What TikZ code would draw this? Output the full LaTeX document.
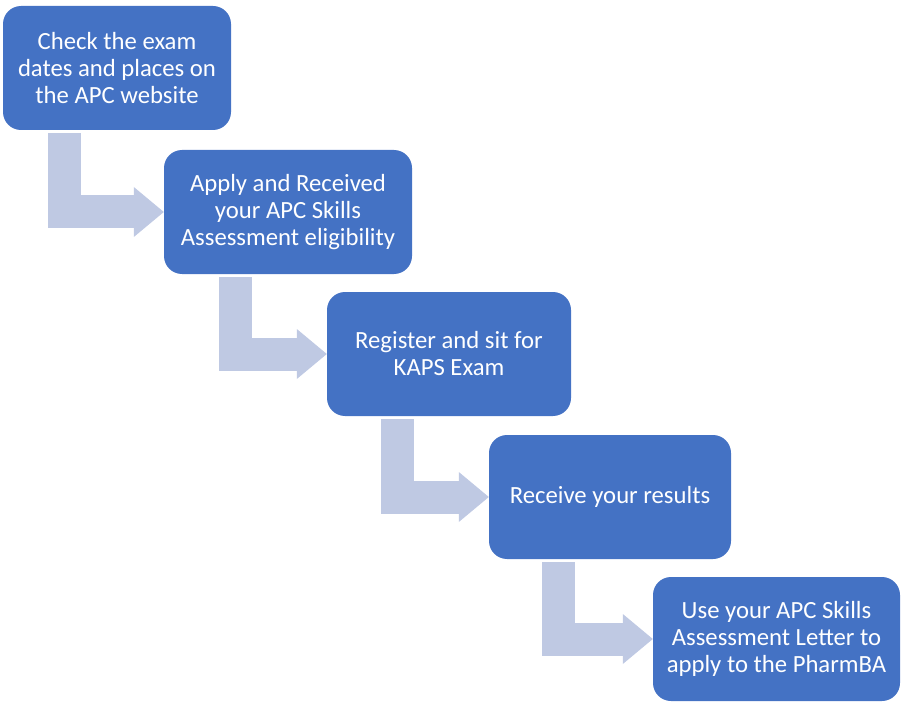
\documentclass[tikz,border=0pt]{standalone}
\usepackage{fontspec}
\setmainfont{Carlito}
\usetikzlibrary{arrows.meta, calc}
\definecolor{boxblue}{RGB}{68,114,196}
\definecolor{bendgray}{RGB}{191,201,227}

\begin{document}
\begin{tikzpicture}[
    x=1pt, y=-1pt,
    font=\fontsize{24.7}{27}\selectfont,
    stepbox/.style={rectangle, rounded corners=18pt, fill=boxblue, text=white, align=center, minimum height=124pt, inner sep=0pt},
    bendarrow/.style={draw=bendgray, line width=33pt, -{Triangle[length=30pt, width=50pt, line width=0pt]}}
  ]
    \useasboundingbox (0,0) rectangle (906,706);
    \node[stepbox, minimum width=228pt] (check) at (117,68)
    {Check the exam\\dates and places on\\the APC website};
    \node[stepbox, minimum width=248pt] (apply) at (288,212)
    {Apply and Received\\your APC Skills\\Assessment eligibility};
    \node[stepbox, minimum width=244pt] (register) at (449,354)
    {Register and sit for\\KAPS Exam};
    \node[stepbox, minimum width=242pt] (results) at (610,497)
    {Receive your results};
    \node[stepbox, minimum width=247pt] (letter) at (776.5,639)
    {Use your APC Skills\\Assessment Letter to\\apply to the PharmBA};
    \draw[bendarrow] ($(check.south west)+(61.5,3)$) |- (apply.west);
    \draw[bendarrow] ($(apply.south west)+(71.5,3)$) |- (register.west);
    \draw[bendarrow] ($(register.south west)+(71,3)$) |- (results.west);
    \draw[bendarrow] ($(results.south west)+(69.5,3)$) |- (letter.west);
\end{tikzpicture}
\end{document}
